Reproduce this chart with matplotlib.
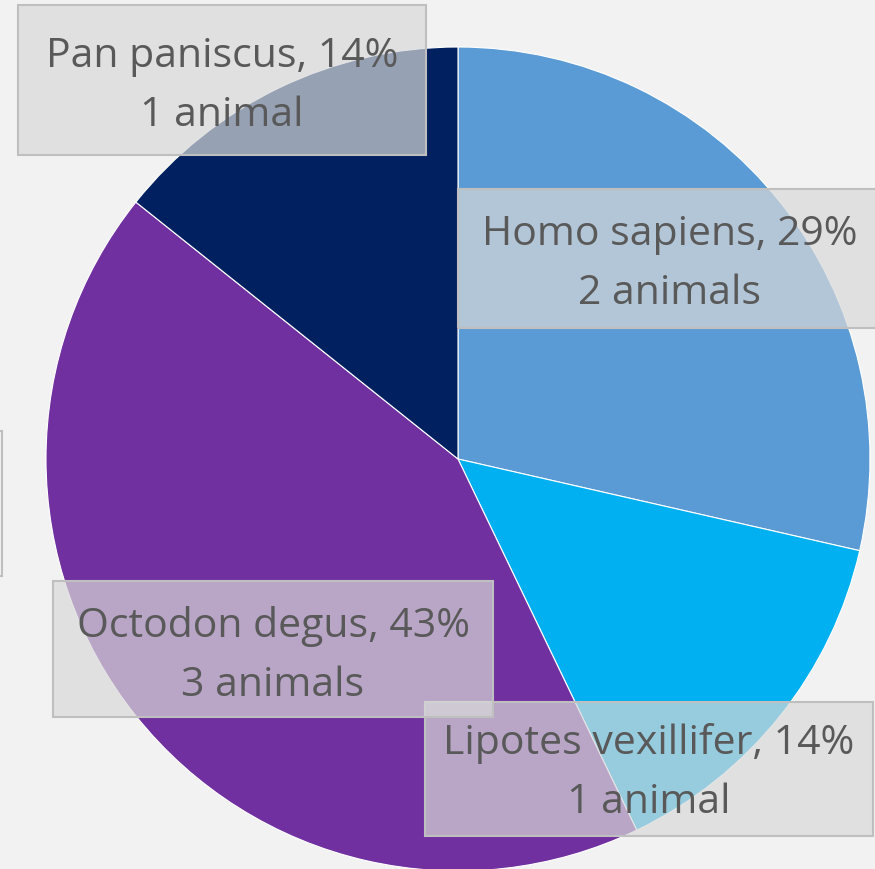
import matplotlib.pyplot as plt
from matplotlib.patches import Rectangle

# species counts, clockwise from 12 o'clock
species = ['Homo sapiens', 'Lipotes vexillifer', 'Octodon degus', 'Pan paniscus']
counts = [2, 1, 3, 1]
colors = ['#5B9BD5', '#00B0F0', '#7030A0', '#002060']

# label boxes in pixel coords (x0, y0 from top, x1, y1)
label_boxes = [(458, 190, 890, 329),
               (425, 703, 873, 837),
               (53, 582, 493, 718),
               (18, 6, 426, 156)]
label_centers = [(670, 264), (649, 773), (273, 656), (222, 86)]

W, H = 875, 870
fig = plt.figure(figsize=(W / 100, H / 100), dpi=100, facecolor='#f2f2f2')
ax = fig.add_axes([0, 0, 1, 1])

ax.pie(counts, colors=colors, startangle=90, counterclock=False,
       center=(458, H - 460), radius=412, frame=True,
       wedgeprops=dict(edgecolor='white', linewidth=0.8))
ax.set_xlim(0, W)
ax.set_ylim(0, H)
ax.axis('off')

total = sum(counts)
for name, n, (x0, y0, x1, y1), (cx, cy) in zip(species, counts, label_boxes, label_centers):
    ax.add_patch(Rectangle((x0, H - y1), x1 - x0, y1 - y0,
                           facecolor='#d9d9d9', alpha=0.7, edgecolor='none', zorder=3))
    ax.add_patch(Rectangle((x0, H - y1), x1 - x0, y1 - y0,
                           facecolor='none', edgecolor='#bfbfbf', linewidth=1.5, zorder=3))
    pct = round(100 * n / total)
    unit = 'animal' if n == 1 else 'animals'
    ax.text(cx, H - cy, f'{name}, {pct}%\n{n} {unit}',
            ha='center', va='center', fontsize=29.5, color='#595959',
            family='Open Sans', linespacing=1.6, zorder=4)

# clipped box on the left edge
ax.add_patch(Rectangle((-100, H - 577), 102, 145, facecolor='none',
                       edgecolor='#bfbfbf', linewidth=1.5, zorder=3, clip_on=False))

fig.savefig('out.png', dpi=100, facecolor=fig.get_facecolor())
